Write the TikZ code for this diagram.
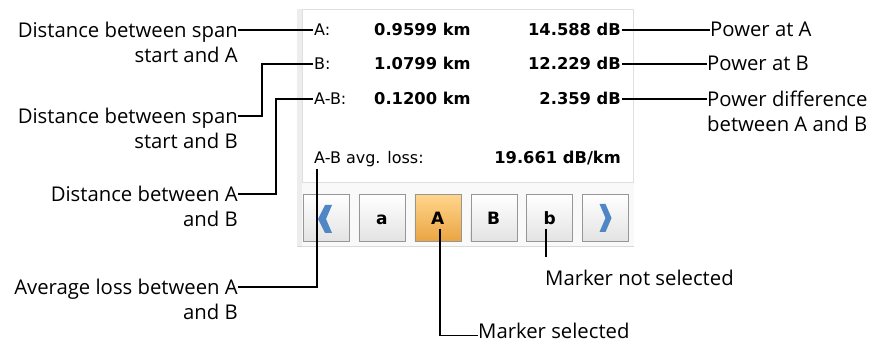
\documentclass[tikz,border=0pt]{standalone}
\usepackage{fontspec}
\setmainfont{Open Sans}
\newfontfamily\panelfont{DejaVu Sans}
\usepackage{xcolor}
\usetikzlibrary{positioning}
\definecolor{chevblue}{RGB}{79,134,198}
\definecolor{seltop}{RGB}{255,214,140}
\definecolor{selbot}{RGB}{234,164,66}
\definecolor{btnedge}{RGB}{150,150,150}

\begin{document}
\begin{tikzpicture}[
  x=1pt, y=-1pt,
  note/.style={inner sep=0pt, font=\fontsize{20.3}{25}\selectfont},
  leftnote/.style={note, align=right, anchor=north east, yshift=8pt},
  rightnote/.style={note, align=left, anchor=north west, yshift=8pt},
  field/.style={inner sep=1pt, anchor=base west, font=\panelfont\fontsize{16}{19}\selectfont},
  value/.style={field, font=\panelfont\bfseries\fontsize{16.3}{19}\selectfont},
  valueR/.style={value, anchor=base east},
  btn/.style={rectangle, draw=btnedge, minimum width=46pt, minimum height=47pt,
              top color=white, bottom color=gray!22, text height=12.5pt, text depth=0pt,
              font=\panelfont\bfseries\fontsize{17}{20}\selectfont},
  selbtn/.style={btn, top color=seltop, bottom color=selbot},
  chev/.style={fill=chevblue},
  lead/.style={line width=1.5pt, black}
]
\useasboundingbox (0,0) rectangle (876,344);
\fill[gray!5] (297,9) rectangle (634,247);
\fill[gray!14] (297,9) rectangle (302,247);
\draw[gray!25, fill=white] (302,9.5) rectangle (633.5,182);
\draw[gray!30] (297,246.5) -- (634,246.5);

\node[field] (fA) at (313,36) {A:};
\node[value] (dA) at (373,36) {0.9599 km};
\node[valueR] (pA) at (622,36) {14.588 dB};
\node[field] (fB) at (313,70) {B:};
\node[value] (dB) at (373,70) {1.0799 km};
\node[valueR] (pB) at (622,70) {12.229 dB};
\node[field] (fAB) at (313,105) {A-B:};
\node[value] (dAB) at (373,105) {0.1200 km};
\node[valueR] (pAB) at (622,105) {2.359 dB};
\node[field] (fAvg) at (313,164) {A-B avg. loss:};
\node[valueR] (avg) at (622,164) {19.661 dB/km};

\node[btn] (bPrev) at (326,218) {};
\node[btn, right=9.5pt of bPrev] (ba) {a};
\node[selbtn, right=9.5pt of ba] (bA) {A};
\node[btn, right=9.5pt of bA] (bB) {B};
\node[btn, right=9.5pt of bB] (bb) {b};
\node[btn, right=9.5pt of bb] (bNext) {};
\fill[chev] ([shift={(6,-13)}]bPrev.center) -- ++(-7,0) -- ++(-7,14) -- ++(7,14)
  -- ++(7,0) -- ++(-6,-14) -- cycle;
\fill[chev] ([shift={(-6,-14)}]bNext.center) -- ++(6,0) -- ++(6,14) -- ++(-6,14)
  -- ++(-6,0) -- ++(6,-14) -- cycle;

\node[leftnote] (nDA) at (238,30) {Distance between span\\start and A};
\node[leftnote] (nDB) at (238,116) {Distance between span\\start and B};
\node[leftnote] (nDAB) at (238,194) {Distance between A\\and B};
\node[leftnote] (nAvg) at (238,287) {Average loss between A\\and B};
\node[rightnote] (nPA) at (710,30) {Power at A};
\node[rightnote] (nPB) at (707,64) {Power at B};
\node[rightnote] (nPD) at (707,99) {Power difference\\between A and B};
\node[note, anchor=north west] (nNot) at (545,270) {Marker not selected};
\node[note, anchor=base west] (nSel) at (478,338.5) {Marker selected};

\draw[lead] (fA.west) -- (fA.west -| nDA.east);
\draw[lead] (fB.west) -- ++(-51,0) |- ([yshift=-8pt]nDB.north east);
\draw[lead] (fAB.west) -- ++(-37,0) |- ([yshift=-8pt]nDAB.north east);
\draw[lead] ([xshift=4pt]fAvg.south west) |- ([yshift=-8pt]nAvg.north east);
\draw[lead] (pA.east) -- (pA.east -| nPA.west);
\draw[lead] (pB.east) -- (pB.east -| nPB.west);
\draw[lead] (pAB.east) -- (pAB.east -| nPD.west);
\draw[lead] ([xshift=2pt,yshift=13pt]bA.south) |- ([yshift=3pt]nSel.base west);
\draw[lead] ([xshift=-3.5pt,yshift=13pt]bb.south) -- ([xshift=-3.5pt,yshift=13pt]bb.south |- nNot.north);
\end{tikzpicture}
\end{document}
